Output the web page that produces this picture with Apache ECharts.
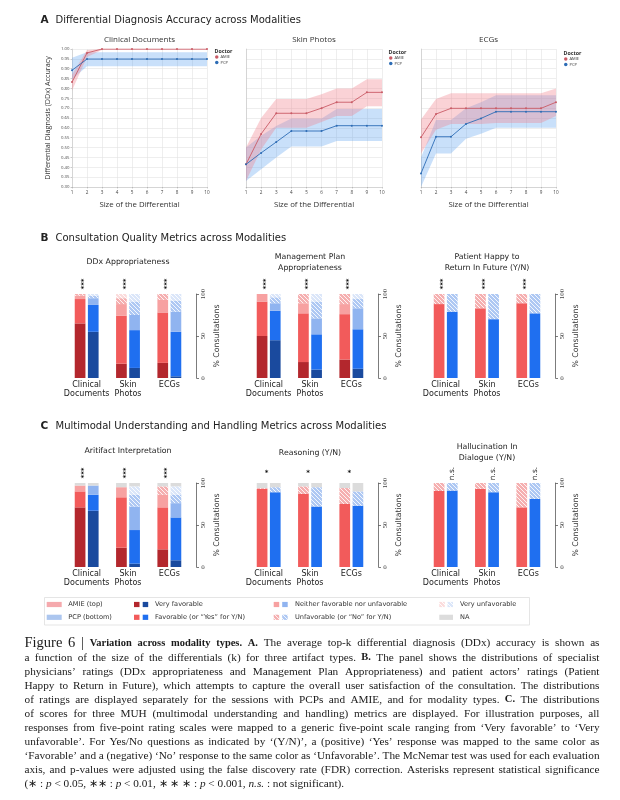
<!DOCTYPE html>
<html><head><meta charset="utf-8">
<script src="https://cdn.jsdelivr.net/npm/echarts@6/dist/echarts.min.js"></script>
<style>html,body{margin:0;padding:0;background:#fff}#c{width:620px;height:800px}</style>
</head><body><div id="c"></div>
<script>
// ================= DATA =================
const kSizes = [1,2,3,4,5,6,7,8,9,10];
const accMin = 0.30, accMax = 1.00, accStep = 0.05;

// Panel A: top-k DDx accuracy (mean, lower, upper)
const clinAmie   = [0.832,0.980,1.000,1.000,1.000,1.000,1.000,1.000,1.000,1.000];
const clinAmieLo = [0.790,0.960,0.995,0.995,0.995,0.995,0.995,0.995,0.995,0.995];
const clinAmieHi = [0.870,0.995,1.000,1.000,1.000,1.000,1.000,1.000,1.000,1.000];
const clinPcp    = [0.892,0.949,0.949,0.949,0.949,0.949,0.949,0.949,0.949,0.949];
const clinPcpLo  = [0.845,0.912,0.912,0.912,0.912,0.912,0.912,0.912,0.912,0.912];
const clinPcpHi  = [0.955,0.983,0.983,0.983,0.983,0.983,0.983,0.983,0.983,0.983];

const skinAmie   = [0.415,0.569,0.674,0.674,0.674,0.700,0.730,0.730,0.780,0.780];
const skinAmieLo = [0.330,0.490,0.600,0.600,0.600,0.630,0.660,0.660,0.710,0.710];
const skinAmieHi = [0.500,0.650,0.746,0.746,0.746,0.770,0.800,0.800,0.846,0.846];
const skinPcp    = [0.415,0.473,0.528,0.584,0.584,0.584,0.611,0.611,0.611,0.611];
const skinPcpLo  = [0.330,0.390,0.450,0.505,0.505,0.505,0.533,0.533,0.533,0.533];
const skinPcpHi  = [0.500,0.560,0.610,0.648,0.648,0.648,0.696,0.696,0.696,0.696];

const ecgAmie    = [0.552,0.670,0.699,0.699,0.699,0.699,0.699,0.699,0.699,0.730];
const ecgAmieLo  = [0.470,0.590,0.620,0.620,0.620,0.625,0.625,0.625,0.625,0.660];
const ecgAmieHi  = [0.643,0.746,0.775,0.775,0.775,0.775,0.775,0.775,0.775,0.800];
const ecgPcp     = [0.369,0.555,0.555,0.620,0.648,0.682,0.682,0.682,0.682,0.682];
const ecgPcpLo   = [0.300,0.470,0.470,0.545,0.570,0.600,0.600,0.600,0.600,0.600];
const ecgPcpHi   = [0.450,0.640,0.640,0.700,0.730,0.765,0.765,0.765,0.765,0.765];

// Panels B/C: % consultations per modality [Clinical, Skin, ECG]
// each row: [Very favorable, Favorable/Yes, Neither, Unfavorable/No, Very unfavorable, NA]
const modalities = ['Clinical\nDocuments', 'Skin\nPhotos', 'ECGs'];
const pctTicks = [0, 50, 100];

const ddxAmie   = [[65,29,4,2,0,0],[17,57,14,7,5,0],[18,60,15,7,0,0]];
const ddxPcp    = [[55,32,8,3,2,0],[12,45,18,16,9,0],[2,53,24,13,8,0]];
const mgmtAmie  = [[50,41,9,0,0,0],[19,58,12,11,0,0],[22,54,12,12,0,0]];
const mgmtPcp   = [[45,35,9,7,4,0],[10,42,19,20,9,0],[11,47,25,11,6,0]];
const happyAmie = [[0,88,0,12,0,0],[0,83,0,17,0,0],[0,89,0,11,0,0]];
const happyPcp  = [[0,79,0,21,0,0],[0,70,0,30,0,0],[0,77,0,23,0,0]];
const artAmie   = [[71,19,7,0,0,3],[23,60,12,0,0,5],[21,50,15,10,0,4]];
const artPcp    = [[67,19,11,0,0,3],[4,40,28,14,10,4],[8,51,17,10,10,4]];
const reasAmie  = [[0,93,0,1,0,6],[0,87,0,9,0,4],[0,75,0,19,0,6]];
const reasPcp   = [[0,89,0,6,0,5],[0,72,0,23,0,5],[0,73,0,17,0,10]];
const hallAmie  = [[0,90.5,0,9.5,0,0],[0,93,0,7,0,0],[0,71,0,29,0,0]];
const hallPcp   = [[0,91,0,9,0,0],[0,89,0,11,0,0],[0,81,0,19,0,0]];

const sigDdx   = ['***','***','***'];
const sigMgmt  = ['***','***','***'];
const sigHappy = ['***','***','***'];
const sigArt   = ['***','***','***'];
const sigReas  = ['*','*','*'];
const sigHall  = ['n.s.','n.s.','n.s.'];

// ================= STYLE HELPERS =================
function hatch(base, line) {
  const s = 4, c = document.createElement('canvas');
  c.width = s; c.height = s;
  const g = c.getContext('2d');
  g.fillStyle = base; g.fillRect(0,0,s,s);
  g.strokeStyle = line; g.lineWidth = 1;
  g.beginPath();
  for (const o of [-s,0,s]) { g.moveTo(o,0); g.lineTo(o+s,s); }
  g.stroke();
  return {image: c, repeat: 'repeat'};
}
const amieFill = ['#b3272d','#f25b5b','#f7a1a1', hatch('#f5afb0','rgba(255,255,255,0.85)'), hatch('#fbdcdc','rgba(255,255,255,0.9)'), '#dcdcdc'];
const pcpFill  = ['#1a4a9e','#1f6ff0','#90b4f0', hatch('#aec8f3','rgba(255,255,255,0.85)'), hatch('#dbe6f9','rgba(255,255,255,0.9)'), '#dcdcdc'];
const AMIE_LINE = '#c95b66', PCP_LINE = '#2d6cb5';
const AMIE_BAND = 'rgba(240,130,140,0.36)', PCP_BAND = 'rgba(90,160,240,0.33)';
const SANS = 'DejaVu Sans', PLOT = 'Open Sans', SERIF = 'Liberation Serif';

function T(x, y, text, o = {}) {
  return {type:'text', x, y, rotation: o.rot || 0, silent: true, z: 10,
    style: {text, fill: o.color || '#222', fontSize: o.size || 8, fontFamily: o.family || SANS,
      fontWeight: o.weight || 'normal', fontStyle: o.style || 'normal',
      align: o.align || 'left', verticalAlign: o.va || 'middle', lineHeight: o.lh}};
}

// ================= PANEL A =================
const lineGrids = [
  {left:72, top:49, width:135, height:138, title:'Clinical Documents',
   amie:clinAmie, amieLo:clinAmieLo, amieHi:clinAmieHi, pcp:clinPcp, pcpLo:clinPcpLo, pcpHi:clinPcpHi, leg:[215,55]},
  {left:246, top:49, width:136, height:138, title:'Skin Photos',
   amie:skinAmie, amieLo:skinAmieLo, amieHi:skinAmieHi, pcp:skinPcp, pcpLo:skinPcpLo, pcpHi:skinPcpHi, leg:[389,56]},
  {left:421, top:49, width:135, height:138, title:'ECGs',
   amie:ecgAmie, amieLo:ecgAmieLo, amieHi:ecgAmieHi, pcp:ecgPcp, pcpLo:ecgPcpLo, pcpHi:ecgPcpHi, leg:[564,57]}
];

const grids = [], xAxes = [], yAxes = [], series = [], legends = [], graphics = [];

function bandSeries(gi, lo, hi, fill) {
  return {type:'custom', xAxisIndex:gi, yAxisIndex:gi, silent:true, z:1, clip:true,
    data: kSizes.map((k,i)=>[k, lo[i], hi[i]]),
    renderItem: (params, api) => {
      if (params.dataIndex !== 0) return null;
      const top = kSizes.map((k,i)=>api.coord([k, hi[i]]));
      const bot = kSizes.map((k,i)=>api.coord([k, lo[i]])).reverse();
      return {type:'polygon', shape:{points: top.concat(bot)}, style:{fill}};
    }};
}

lineGrids.forEach((g, gi) => {
  grids.push({left:g.left, top:g.top, width:g.width, height:g.height, containLabel:false});
  xAxes.push({gridIndex:gi, type:'value', min:1, max:10, interval:1,
    axisLine:{show:true, lineStyle:{color:'#c4c4c4', width:0.6}},
    axisTick:{show:true, length:1.5, lineStyle:{color:'#999', width:0.5}},
    axisLabel:{fontSize:4.6, color:'#444', margin:3, fontFamily:PLOT},
    splitLine:{show:true, lineStyle:{color:'#e2e2e2', width:0.6}}});
  yAxes.push({gridIndex:gi, type:'value', min:accMin, max:accMax, interval:accStep,
    axisLine:{show:true, lineStyle:{color:'#c4c4c4', width:0.6}},
    axisTick:{show:gi===0, length:1.5, lineStyle:{color:'#999', width:0.5}},
    axisLabel:{show:gi===0, fontSize:4.3, color:'#444', margin:2.5, fontFamily:PLOT, formatter:v=>v.toFixed(2)},
    splitLine:{show:true, lineStyle:{color:'#e2e2e2', width:0.6}}});
  series.push(bandSeries(gi, g.pcpLo, g.pcpHi, PCP_BAND));
  series.push(bandSeries(gi, g.amieLo, g.amieHi, AMIE_BAND));
  series.push({type:'line', name:'AMIE', xAxisIndex:gi, yAxisIndex:gi, z:3,
    data:kSizes.map((k,i)=>[k, g.amie[i]]), symbol:'circle', symbolSize:2,
    lineStyle:{color:AMIE_LINE, width:0.9}, itemStyle:{color:AMIE_LINE}, silent:true});
  series.push({type:'line', name:'PCP', xAxisIndex:gi, yAxisIndex:gi, z:3,
    data:kSizes.map((k,i)=>[k, g.pcp[i]]), symbol:'circle', symbolSize:2,
    lineStyle:{color:PCP_LINE, width:0.9}, itemStyle:{color:PCP_LINE}, silent:true});
  legends.push({left:g.leg[0], top:g.leg[1], orient:'vertical', data:['AMIE','PCP'], icon:'circle',
    itemWidth:3.5, itemHeight:3.5, itemGap:1.6, padding:0, selectedMode:false,
    textStyle:{fontSize:4, color:'#333', fontFamily:PLOT, padding:[0,0,0,-3]}});
  graphics.push(T(g.leg[0]-0.5, g.leg[1]-3.5, 'Doctor', {size:5.3, family:PLOT, color:'#333', weight:'bold'}));
  graphics.push(T(g.left + g.width/2, 39.5, g.title, {size:8, family:PLOT, align:'center', color:'#333'}));
  graphics.push(T(g.left + g.width/2, 204.5, 'Size of the Differential', {size:7.8, family:PLOT, align:'center', color:'#333'}));
});
graphics.push(T(47.5, 118, 'Differential Diagnosis (DDx) Accuracy', {size:7.2, family:PLOT, align:'center', rot:Math.PI/2, color:'#333'}));

// ================= PANELS B / C =================
const barPanels = [
  {left:66,  top:294, title:['DDx Appropriateness'], amie:ddxAmie, pcp:ddxPcp, sig:sigDdx},
  {left:248, top:294, title:['Management Plan','Appropriateness'], amie:mgmtAmie, pcp:mgmtPcp, sig:sigMgmt},
  {left:425, top:294, title:['Patient Happy to','Return In Future (Y/N)'], amie:happyAmie, pcp:happyPcp, sig:sigHappy},
  {left:66,  top:483, title:['Aritifact Interpretation'], amie:artAmie, pcp:artPcp, sig:sigArt},
  {left:248, top:483, title:['Reasoning (Y/N)'], amie:reasAmie, pcp:reasPcp, sig:sigReas},
  {left:425, top:483, title:['Hallucination In','Dialogue (Y/N)'], amie:hallAmie, pcp:hallPcp, sig:sigHall}
];
const BW = 124, BH = 84;
barPanels.forEach((p, pi) => {
  const gi = lineGrids.length + pi;
  p.gi = gi;
  grids.push({left:p.left, top:p.top, width:BW, height:BH});
  xAxes.push({gridIndex:gi, type:'category', data:modalities,
    axisLine:{show:false}, axisTick:{show:false},
    axisLabel:{fontSize:8, color:'#222', fontFamily:SANS, margin:3, lineHeight:8.6, interval:0}});
  yAxes.push({gridIndex:gi, type:'value', min:0, max:100, interval:50, position:'right', offset:6.5,
    axisLine:{show:true, lineStyle:{color:'#444', width:0.7}},
    axisTick:{show:true, length:2.5, lineStyle:{color:'#444', width:0.7}},
    axisLabel:{fontSize:7, color:'#444', fontFamily:SERIF, rotate:90, margin:3},
    splitLine:{show:false},
    name:'% Consultations', nameLocation:'middle', nameGap:16, nameRotate:90,
    nameTextStyle:{fontSize:7.8, color:'#333', fontFamily:SANS}});
  for (let L = 0; L < 6; L++) {
    [['AMIE', p.amie, amieFill], ['PCP', p.pcp, pcpFill]].forEach(([doc, rows, fills]) => {
      series.push({type:'bar', name:`${pi}-${doc}-${L}`, xAxisIndex:gi, yAxisIndex:gi,
        stack:`st${gi}${doc}`, barWidth:10.7, barGap:'23%', silent:true,
        data: rows.map(r => r[L]), itemStyle:{color: fills[L]}});
    });
  }
  const cx = p.left + BW/2;
  if (p.title.length === 1) {
    const ty = p.top === 294 ? 262 : (pi === 3 ? 451 : 453);
    graphics.push(T(cx, ty, p.title[0], {size:7.8, align:'center'}));
  } else {
    const ty = p.top === 294 ? 257 : 447;
    graphics.push(T(cx, ty, p.title[0], {size:7.8, align:'center'}));
    graphics.push(T(cx, ty + 10.5, p.title[1], {size:7.8, align:'center'}));
  }
});

// panel letters
graphics.push(T(40.5, 20, 'A', {size:10.5, weight:'bold'}));
graphics.push(T(55.5, 20, 'Differential Diagnosis Accuracy across Modalities', {size:10}));
graphics.push(T(40.5, 238.5, 'B', {size:10.5, weight:'bold'}));
graphics.push(T(55.5, 238.5, 'Consultation Quality Metrics across Modalities', {size:10}));
graphics.push(T(40.5, 426, 'C', {size:10.5, weight:'bold'}));
graphics.push(T(55.5, 426, 'Multimodal Understanding and Handling Metrics across Modalities', {size:10}));

// ================= LEGEND BOX =================
const r1 = 604.5, r2 = 617.3;
graphics.push({type:'rect', silent:true, shape:{x:44.5, y:597.5, width:485, height:27.5},
  style:{fill:'none', stroke:'#dedede', lineWidth:0.8}});
function sw(x, y, w, fill) { return {type:'rect', silent:true, shape:{x, y:y-2.6, width:w, height:5.2}, style:{fill}}; }
graphics.push(sw(46.7, r1, 15, '#f5a9ad'), sw(46.7, r2, 15, '#acc6ef'));
graphics.push(T(68.3, r1, 'AMIE (top)', {size:6.6, color:'#333'}), T(68.3, r2, 'PCP (bottom)', {size:6.6, color:'#333'}));
graphics.push(sw(134, r1, 5.5, amieFill[0]), sw(142.7, r1, 5.5, pcpFill[0]), T(155, r1, 'Very favorable', {size:6.6, color:'#333'}));
graphics.push(sw(134, r2, 5.5, amieFill[1]), sw(142.7, r2, 5.5, pcpFill[1]), T(155, r2, 'Favorable (or “Yes” for Y/N)', {size:6.6, color:'#333'}));
graphics.push(sw(273.7, r1, 5.5, amieFill[2]), sw(282.2, r1, 5.5, pcpFill[2]), T(295, r1, 'Neither favorable nor unfavorable', {size:6.6, color:'#333'}));
graphics.push(sw(273.7, r2, 5.5, amieFill[3]), sw(282.2, r2, 5.5, pcpFill[3]), T(295, r2, 'Unfavorable (or “No” for Y/N)', {size:6.6, color:'#333'}));
graphics.push(sw(439.3, r1, 5.5, amieFill[4]), sw(447.5, r1, 5.5, pcpFill[4]), T(460, r1, 'Very unfavorable', {size:6.6, color:'#333'}));
graphics.push(sw(439.3, r2, 13.7, '#dcdcdc'), T(460, r2, 'NA', {size:6.6, color:'#333'}));

// ================= CAPTION (justified) =================
const capLines = [
 [['f','Figure 6 | '],['b','Variation across modality types.'],['r',' '],['b','A.'],['r',' The average top-k differential diagnosis (DDx) accuracy is shown as']],
 [['r','a function of the size of the differentials (k) for three artifact types. '],['b','B.'],['r',' The panel shows the distributions of specialist']],
 [['r','physicians’ ratings (DDx appropriateness and Management Plan Appropriateness) and patient actors’ ratings (Patient']],
 [['r','Happy to Return in Future), which attempts to capture the overall user satisfaction of the consultation. The distributions']],
 [['r','of ratings are displayed separately for the sessions with PCPs and AMIE, and for modality types. '],['b','C.'],['r',' The distributions']],
 [['r','of scores for three MUH (multimodal understanding and handling) metrics are displayed. For illustration purposes, all']],
 [['r','responses from five-point rating scales were mapped to a generic five-point scale ranging from ‘Very favorable’ to ‘Very']],
 [['r','unfavorable’. For Yes/No questions as indicated by ‘(Y/N)’, a (positive) ‘Yes’ response was mapped to the same color as']],
 [['r','‘Favorable’ and a (negative) ‘No’ response to the same color as ‘Unfavorable’. The McNemar test was used for each evaluation']],
 [['r','axis, and p-values were adjusted using the false discovery rate (FDR) correction. Asterisks represent statistical significance']],
 [['r','(∗ : '],['i','p'],['r',' < 0.05, ∗∗ : '],['i','p'],['r',' < 0.01, ∗ ∗ ∗ : '],['i','p'],['r',' < 0.001, '],['i','n.s.'],['r',' : not significant).']]
];
(function caption() {
  const X0 = 24.5, W = 575, Y0 = 643.5, LH = 14.05;
  const mctx = document.createElement('canvas').getContext('2d');
  const fontOf = (st, fs) => {
    if (st === 'f') return {size:14.5, weight:'normal', style:'normal'};
    if (st === 'b') return {size:fs*0.93, weight:'bold', style:'normal'};
    if (st === 'i') return {size:fs, weight:'normal', style:'italic'};
    return {size:fs, weight:'normal', style:'normal'};
  };
  const measure = (txt, f) => { mctx.font = `${f.style} ${f.weight} ${f.size}px "${SERIF}"`; return mctx.measureText(txt).width; };
  const tokenize = line => {
    const words = []; let cur = [];
    line.forEach(([st, txt]) => {
      txt.split(' ').forEach((part, j) => {
        if (j > 0 && cur.length) { words.push(cur); cur = []; }
        if (part) cur.push([st, part]);
      });
    });
    if (cur.length) words.push(cur);
    return words;
  };
  const lines = capLines.map(tokenize);
  let fs = 12;
  for (; fs > 8; fs -= 0.05) {
    const sp = measure(' ', fontOf('r', fs));
    let ok = true;
    for (let li = 0; li < lines.length - 1; li++) {
      const tot = lines[li].reduce((s, w) => s + w.reduce((a, [st, t]) => a + measure(t, fontOf(st, fs)), 0), 0);
      if ((W - tot) / (lines[li].length - 1) < sp * 0.95) { ok = false; break; }
    }
    if (ok) break;
  }
  const sp = measure(' ', fontOf('r', fs));
  lines.forEach((words, li) => {
    const widths = words.map(w => w.reduce((a, [st, t]) => a + measure(t, fontOf(st, fs)), 0));
    const tot = widths.reduce((a, b) => a + b, 0);
    const gap = li === lines.length - 1 ? sp : (W - tot) / (words.length - 1);
    let x = X0; const y = Y0 + li * LH;
    words.forEach((w, wi) => {
      let xx = x;
      w.forEach(([st, t]) => {
        const f = fontOf(st, fs);
        graphics.push(T(xx, y, t, {size:f.size, weight:f.weight, style:f.style, family:SERIF, color:'#1a1a1a', va:'middle'}));
        xx += measure(t, f);
      });
      x += widths[wi] + gap;
    });
  });
})();

// ================= RENDER =================
const chart = echarts.init(document.getElementById('c'), null, {renderer:'canvas'});
chart.setOption({animation:false, backgroundColor:'#fff', grid:grids, xAxis:xAxes, yAxis:yAxes, series, legend:legends});

// significance annotations anchored through the axes
const sigOffsets = {'***':[-2.2,-10, Math.PI/2, 7, 'bold'], '*':[-2,-9.5,0,7,'bold'], 'n.s.':[6.5,-9.5,Math.PI/2,7.5,'normal']};
barPanels.forEach(p => {
  p.sig.forEach((s, i) => {
    const pt = chart.convertToPixel({gridIndex:p.gi}, [i, 100]);
    const o = sigOffsets[s];
    graphics.push(T(pt[0] + o[0], pt[1] + o[1], s, {size:o[3], weight:o[4], align:'center', rot:o[2], color:'#111'}));
  });
});
chart.setOption({graphic: graphics});
</script></body></html>
